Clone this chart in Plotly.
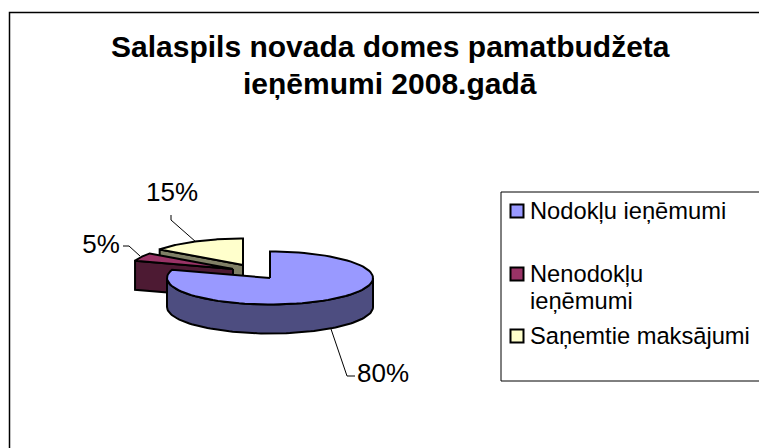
import numpy as np
import plotly.graph_objects as go

title_lines = ["Salaspils novada domes pamatbudžeta", "ieņēmumi 2008.gadā"]
categories = ["Nodokļu ieņēmumi", "Nenodokļu<br>ieņēmumi", "Saņemtie maksājumi"]
values = [80, 5, 15]
top_colors = ["#9999FF", "#993366", "#FFFFCC"]
side_colors = ["#4D4D80", "#4D1A33", "#808066"]
explode_dx = [0, -37, -27]
explode_dy = [0, -9, -13]
label_xy = [(383, 375), (101, 246), (172, 194)]
leaders = [
    [(331, 329), (347, 376), (355, 376)],
    [(123, 246), (129, 246), (140, 256)],
    [(171, 215), (171, 220), (196, 242)],
]
legend_y = [211, 274, 336]

CX, CY, RX, RY, DEPTH = 270, 278, 103, 26.5, 29
FONT = "Liberation Sans, Arial, sans-serif"
LINE = dict(color="black", width=2)


def arc(a0, a1, cx, cy, dz=0):
    t = np.radians(np.linspace(a0, a1, 90))
    return cx + RX * np.sin(t), cy - RY * np.cos(t) + dz


def poly(fig, xs, ys, color):
    fig.add_trace(go.Scatter(
        x=list(xs) + [xs[0]], y=list(ys) + [ys[0]], mode="lines", fill="toself",
        fillcolor=color, line=dict(color="black", width=2, shape="linear"),
        hoverinfo="skip", showlegend=False,
    ))


fig = go.Figure()
total = sum(values)
bounds = np.cumsum([0] + values) / total * 360

for i in [2, 1, 0]:
    a0, a1 = bounds[i], bounds[i + 1]
    cx, cy = CX + explode_dx[i], CY + explode_dy[i]
    ex, ey = arc(a0, a0, cx, cy)
    ex, ey = ex[0], ey[0]
    poly(fig, [cx, ex, ex, cx], [cy, ey, ey + DEPTH, cy + DEPTH], side_colors[i])
    f0, f1 = max(a0, 90), min(a1, 270)
    if f1 > f0:
        tx, ty = arc(f0, f1, cx, cy)
        bx, by = arc(f1, f0, cx, cy, DEPTH)
        poly(fig, np.r_[tx, bx], np.r_[ty, by], side_colors[i])
    tx, ty = arc(a0, a1, cx, cy)
    poly(fig, np.r_[cx, tx], np.r_[cy, ty], top_colors[i])

for pts in leaders:
    fig.add_trace(go.Scatter(
        x=[p[0] for p in pts], y=[p[1] for p in pts], mode="lines",
        line=dict(color="black", width=1), hoverinfo="skip", showlegend=False,
    ))

fig.add_trace(go.Scatter(
    x=[p[0] for p in label_xy], y=[p[1] for p in label_xy], mode="text",
    text=[f"{v}%" for v in values], textposition="middle center",
    textfont=dict(family=FONT, size=26, color="black"),
    hoverinfo="skip", showlegend=False,
))

for cat, col, y in zip(categories, top_colors, legend_y):
    fig.add_trace(go.Scatter(
        x=[517], y=[y], mode="markers",
        marker=dict(symbol="square", size=13, color=col, line=LINE),
        hoverinfo="skip", showlegend=False,
    ))
    for k, part in enumerate(cat.split("<br>")):
        fig.add_annotation(
            x=529, y=y + 27 * k, xref="x", yref="y", text=part, showarrow=False,
            xanchor="left", yanchor="middle", align="left", borderpad=0,
            font=dict(family=FONT, size=23.7, color="black"),
        )

for line, y in zip(title_lines, [46, 83]):
    fig.add_annotation(
        x=390, y=y, xref="x", yref="y", text=f"<b>{line}</b>", showarrow=False,
        xanchor="center", yanchor="middle", align="center", borderpad=0,
        font=dict(family=FONT, size=30, color="black"),
    )

fig.update_layout(
    width=759, height=448, margin=dict(l=0, r=0, t=0, b=0),
    paper_bgcolor="white", plot_bgcolor="white", showlegend=False,
    xaxis=dict(range=[0, 759], visible=False, fixedrange=True),
    yaxis=dict(range=[448, 0], visible=False, fixedrange=True),
    shapes=[
        dict(type="rect", xref="x", yref="y", x0=9.5, y0=12.5, x1=775, y1=470,
             line=dict(color="black", width=1.5), layer="below"),
        dict(type="rect", xref="x", yref="y", x0=501, y0=192, x1=775, y1=381,
             line=dict(color="black", width=1), layer="below"),
    ],
)
fig.write_html("out.html", config={"displayModeBar": False},
               post_script="document.body.style.margin='0';document.body.style.overflow='hidden';")
